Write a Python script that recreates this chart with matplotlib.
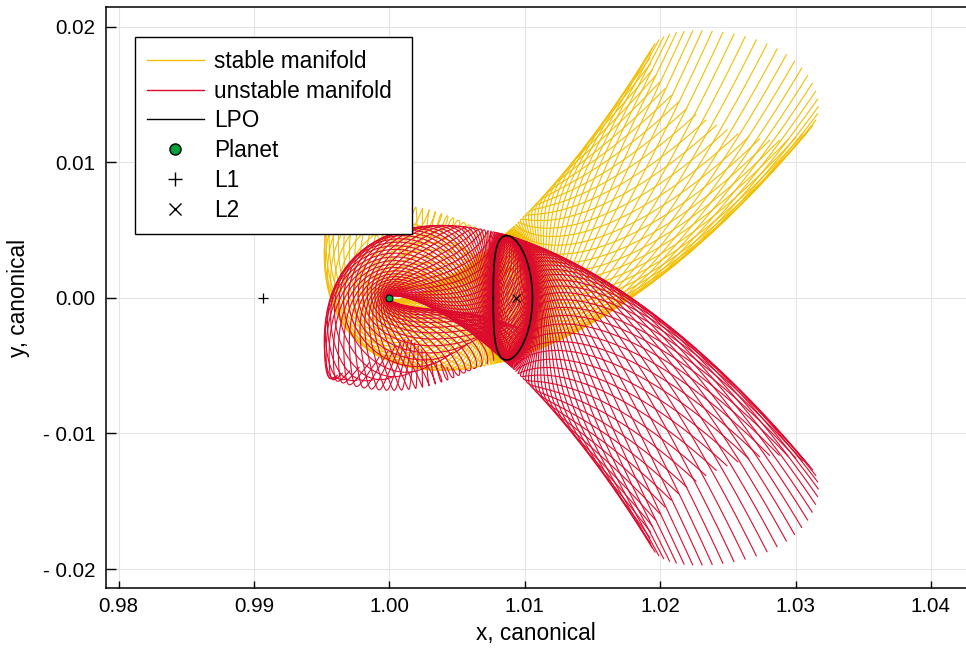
import numpy as np
import matplotlib
matplotlib.use('Agg')
import matplotlib.pyplot as plt
from matplotlib.collections import LineCollection
from matplotlib.lines import Line2D

# Sun-Venus restricted three-body problem, canonical units
MU = 2.4478e-6
LPO_X0 = 1.00767          # left x-axis crossing of the Lyapunov orbit
N_TRAJ = 50               # orbit points the manifolds are started from
EPS = 1e-7                # size of the step off the orbit
DURATION_PERIODS = 1.75   # how long each manifold trajectory is flown, in orbit periods

STABLE_COLOR = '#F2BE00'
UNSTABLE_COLOR = '#DC0A2D'
PLANET_COLOR = '#00A03C'

XTICKS = [0.98, 0.99, 1.00, 1.01, 1.02, 1.03, 1.04]
XTICK_LABELS = ['0.98', '0.99', '1.00', '1.01', '1.02', '1.03', '1.04']
YTICKS = [-0.02, -0.01, 0.00, 0.01, 0.02]
YTICK_LABELS = ['- 0.02', '- 0.01', '0.00', '0.01', '0.02']
XLIM = (0.97904, 1.04259)
YLIM = (-0.021424, 0.021475)


def deriv(S):
    x, y, vx, vy = S[..., 0], S[..., 1], S[..., 2], S[..., 3]
    r13 = ((x + MU)**2 + y**2)**1.5
    r23 = ((x - 1 + MU)**2 + y**2)**1.5
    ax = 2*vy + x - (1 - MU)*(x + MU)/r13 - MU*(x - 1 + MU)/r23
    ay = -2*vx + y - (1 - MU)*y/r13 - MU*y/r23
    return np.stack([vx, vy, ax, ay], axis=-1)


def deriv_stm(Z):
    S = Z[:4]
    phi = Z[4:].reshape(4, 4)
    x, y = S[0], S[1]
    dx1, dx2 = x + MU, x - 1 + MU
    r1 = np.sqrt(dx1**2 + y**2)
    r2 = np.sqrt(dx2**2 + y**2)
    uxx = 1 - (1-MU)/r1**3 + 3*(1-MU)*dx1**2/r1**5 - MU/r2**3 + 3*MU*dx2**2/r2**5
    uyy = 1 - (1-MU)/r1**3 + 3*(1-MU)*y**2/r1**5 - MU/r2**3 + 3*MU*y**2/r2**5
    uxy = 3*(1-MU)*dx1*y/r1**5 + 3*MU*dx2*y/r2**5
    A = np.array([[0, 0, 1, 0], [0, 0, 0, 1], [uxx, uxy, 0, 2], [uxy, uyy, -2, 0]])
    return np.concatenate([deriv(S), (A @ phi).ravel()])


def rk4(f, S, h):
    k1 = f(S)
    k2 = f(S + 0.5*h*k1)
    k3 = f(S + 0.5*h*k2)
    k4 = f(S + h*k3)
    return S + h/6*(k1 + 2*k2 + 2*k3 + k4)


def lagrange_point(guess):
    g = lambda x: x - (1-MU)*(x+MU)/abs(x+MU)**3 - MU*(x-1+MU)/abs(x-1+MU)**3
    x = guess
    for _ in range(50):
        d = (g(x + 1e-9) - g(x - 1e-9)) / 2e-9
        x = x - g(x)/d
    return x


def half_period(vy0, h=1e-3):
    S = np.array([LPO_X0, 0.0, 0.0, vy0])
    t = 0.0
    while True:
        S_new = rk4(deriv, S, h)
        t += h
        if t > 0.2 and S_new[1] < 0 <= S[1]:
            S = S_new
            for _ in range(4):
                dt = -S[1]/S[3]
                S = rk4(deriv, S, dt)
                t += dt
            return t, S
        S = S_new


def correct_lpo(vy_guess):
    v0, v1 = vy_guess, vy_guess*1.005
    f0 = half_period(v0)[1][2]
    f1 = half_period(v1)[1][2]
    for _ in range(30):
        v2 = v1 - f1*(v1 - v0)/(f1 - f0)
        v2 = np.clip(v2, 0.9*v1, 1.1*v1)
        v0, f0 = v1, f1
        v1 = v2
        f1 = half_period(v1)[1][2]
        if abs(f1) < 1e-13:
            break
    return v1, 2*half_period(v1)[0]


def integrate_batch(S0, direction, T, rtol=1e-10, atol=1e-13, hmax=0.004):
    a = [[],
         [1/5],
         [3/40, 9/40],
         [44/45, -56/15, 32/9],
         [19372/6561, -25360/2187, 64448/6561, -212/729],
         [9017/3168, -355/33, 46732/5247, 49/176, -5103/18656],
         [35/384, 0, 500/1113, 125/192, -2187/6784, 11/84]]
    b = [35/384, 0, 500/1113, 125/192, -2187/6784, 11/84, 0]
    e = [71/57600, 0, -71/16695, 71/1920, -17253/339200, 22/525, -1/40]
    n = S0.shape[0]
    S = S0.copy()
    t = np.zeros(n)
    h = np.full(n, 1e-4)
    sgn = direction[:, None]
    snaps, masks = [], []
    active = np.ones(n, bool)
    while active.any():
        hh = h[:, None]
        k = []
        for i in range(7):
            Si = S.copy()
            for j, aij in enumerate(a[i]):
                if aij:
                    Si = Si + hh*aij*k[j]
            k.append(sgn*deriv(Si))
        y5 = S + hh*sum(bi*ki for bi, ki in zip(b, k) if bi)
        err = hh*sum(ei*ki for ei, ki in zip(e, k) if ei)
        sc = atol + rtol*np.maximum(np.abs(S), np.abs(y5))
        en = np.sqrt(np.mean((err/sc)**2, axis=1))
        acc = (en <= 1) & active
        S[acc] = y5[acc]
        t[acc] += h[acc]
        snaps.append(S[:, :2].copy())
        masks.append(acc)
        with np.errstate(divide='ignore'):
            fac = np.clip(0.9*en**-0.2, 0.2, 5.0)
        h = np.minimum(np.minimum(h*fac, hmax), T - t)
        active = t < T - 1e-12
        h[~active] = 0.0
    P = np.array(snaps)
    M = np.array(masks)
    return [np.vstack([S0[j, :2], P[M[:, j], j]]) for j in range(n)]


x_l1 = lagrange_point(0.99)
x_l2 = lagrange_point(1.01)

# Lyapunov orbit about L2, linear guess then shooting on vy
gam = x_l2 - (1 - MU)
c2 = (MU + (1 - MU)*gam**3/(1 + gam)**3)/gam**3
wp = np.sqrt((2 - c2 + np.sqrt(9*c2**2 - 8*c2))/2)
kap = (wp**2 + 1 + 2*c2)/(2*wp)
vy0, period = correct_lpo(kap*wp*(x_l2 - LPO_X0))

# orbit + state transition matrix
steps_per = 40
h = period/(N_TRAJ*steps_per)
Z = np.concatenate([[LPO_X0, 0.0, 0.0, vy0], np.eye(4).ravel()])
orbit = [Z[:2].copy()]
points, phis = [], []
for i in range(N_TRAJ*steps_per):
    if i % steps_per == 0:
        points.append(Z[:4].copy())
        phis.append(Z[4:].reshape(4, 4).copy())
    Z = rk4(deriv_stm, Z, h)
    orbit.append(Z[:2].copy())
orbit = np.array(orbit)
monodromy = Z[4:].reshape(4, 4)

vals, vecs = np.linalg.eig(monodromy)
iu = np.argmax(np.abs(vals))
i_s = np.argmin(np.abs(vals))
vu = np.real(vecs[:, iu])
vs = np.real(vecs[:, i_s])
vu = vu*np.sign(vu[0])
vs = vs*np.sign(vs[0])

starts, dirs, kinds = [], [], []
for X, phi in zip(points, phis):
    for v, d, kind in ((vu, 1.0, 'u'), (vs, -1.0, 's')):
        w = phi @ v
        w = w/np.linalg.norm(w[:2])
        for side in (1.0, -1.0):
            starts.append(X + side*EPS*w)
            dirs.append(d)
            kinds.append(kind)
starts = np.array(starts)
dirs = np.array(dirs)
paths = integrate_batch(starts, dirs, DURATION_PERIODS*period)
stable_paths = [p for p, k in zip(paths, kinds) if k == 's']
unstable_paths = [p for p, k in zip(paths, kinds) if k == 'u']

plt.rcParams['font.family'] = ['Liberation Sans', 'DejaVu Sans']
fig = plt.figure(figsize=(9.66, 6.48), dpi=100)
ax = fig.add_axes([0.1094, 0.0921, 0.8906, 0.8976])

ax.add_collection(LineCollection(stable_paths, colors=STABLE_COLOR, linewidths=0.8, zorder=2))
ax.add_collection(LineCollection(unstable_paths, colors=UNSTABLE_COLOR, linewidths=0.8, zorder=3))
ax.plot(orbit[:, 0], orbit[:, 1], color='black', lw=1.2, zorder=4)
ax.plot([1 - MU], [0], 'o', ms=5, mfc=PLANET_COLOR, mec='black', mew=0.8, zorder=5)
ax.plot([x_l1], [0], '+', ms=7, color='black', mew=0.9, zorder=5)
ax.plot([x_l2], [0], 'x', ms=6, color='black', mew=0.9, zorder=5)

ax.set_xlim(XLIM)
ax.set_ylim(YLIM)
ax.set_xticks(XTICKS)
ax.set_xticklabels(XTICK_LABELS)
ax.set_yticks(YTICKS)
ax.set_yticklabels(YTICK_LABELS)
ax.tick_params(axis='both', direction='in', labelsize=14.8, width=1)
ax.tick_params(axis='y', length=7, pad=7.5)
ax.tick_params(axis='x', length=5, pad=6.5)
ax.grid(True, color='#e4e4e4', lw=0.8)
ax.set_axisbelow(True)
ax.spines['right'].set_visible(False)
for s in ('left', 'bottom', 'top'):
    ax.spines[s].set_linewidth(1.1)
ax.set_xlabel('x, canonical', fontsize=16.3, labelpad=4)
ax.set_ylabel('y, canonical', fontsize=16.3, labelpad=9)

handles = [Line2D([], [], color=STABLE_COLOR, lw=1),
           Line2D([], [], color=UNSTABLE_COLOR, lw=1),
           Line2D([], [], color='black', lw=1),
           Line2D([], [], ls='none', marker='o', ms=8, mfc=PLANET_COLOR, mec='black'),
           Line2D([], [], ls='none', marker='+', ms=10, color='black'),
           Line2D([], [], ls='none', marker='x', ms=9, color='black')]
labels = ['stable manifold', 'unstable manifold', 'LPO', 'Planet', 'L1', 'L2']
leg = ax.legend(handles, labels, loc='upper left',
                bbox_to_anchor=(0.0337, 0.6018, 0.3227, 0.3456), mode='expand',
                borderaxespad=0, fontsize=16.3, frameon=True, fancybox=False,
                framealpha=1, edgecolor='black', handlelength=2.5, handletextpad=0.45,
                labelspacing=0.3, borderpad=0.55)
leg.get_frame().set_linewidth(1.0)

fig.savefig('out.png', dpi=100)
